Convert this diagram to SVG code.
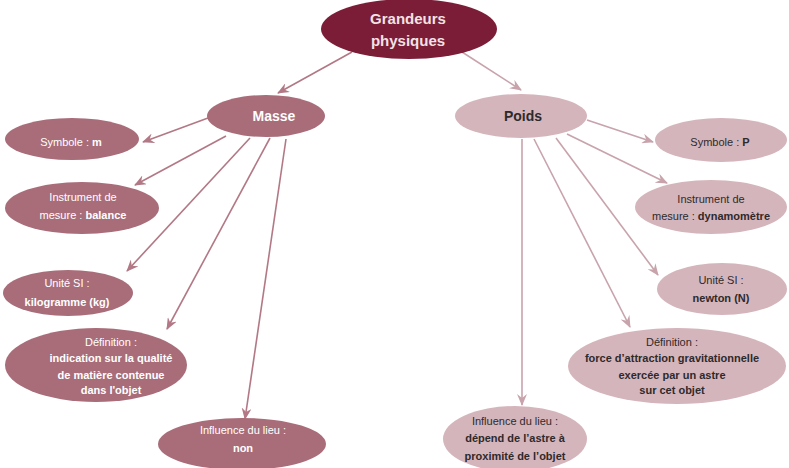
<svg xmlns="http://www.w3.org/2000/svg" width="789" height="468" viewBox="0 0 789 468">
<defs>
<marker id="aL" viewBox="0 0 12 10" markerWidth="12" markerHeight="10" refX="11" refY="5" orient="auto" markerUnits="userSpaceOnUse"><path d="M0,0 L12,5 L0,10 L4,5 z" fill="#b27885"/></marker>
<marker id="aR" viewBox="0 0 12 10" markerWidth="12" markerHeight="10" refX="11" refY="5" orient="auto" markerUnits="userSpaceOnUse"><path d="M0,0 L12,5 L0,10 L4,5 z" fill="#c8a3ac"/></marker>
</defs>
<style>
text{font-family:"Liberation Sans",Arial,sans-serif;text-anchor:middle}
.top{fill:#7b1d37}
.lf{fill:#a86d79}
.rf{fill:#d5b5bc}
.lt{fill:#ffffff;font-size:11px}
.rt{fill:#2e2a2b;font-size:11px}
.b{font-weight:bold}
.cl{stroke:#b27885;stroke-width:1.6;fill:none;marker-end:url(#aL)}
.cr{stroke:#c8a3ac;stroke-width:1.6;fill:none;marker-end:url(#aR)}
</style>
<rect width="789" height="468" fill="#ffffff"/>
<g id="connectors">
<line class="cl" x1="352" y1="52" x2="278" y2="93"/>
<line class="cr" x1="462" y1="52" x2="521" y2="90"/>
<line class="cl" x1="208" y1="118" x2="143" y2="142"/>
<line class="cl" x1="226" y1="136" x2="135" y2="185"/>
<line class="cl" x1="250" y1="138" x2="127" y2="271"/>
<line class="cl" x1="270" y1="138" x2="167" y2="329"/>
<line class="cl" x1="286" y1="139" x2="245" y2="419"/>
<line class="cr" x1="587" y1="120" x2="653" y2="142"/>
<line class="cr" x1="567" y1="134" x2="667" y2="183"/>
<line class="cr" x1="556" y1="138" x2="658" y2="275"/>
<line class="cr" x1="534" y1="139" x2="630" y2="327"/>
<line class="cr" x1="522" y1="139" x2="522" y2="405"/>
</g>
<g id="grandeurs">
<ellipse class="top" cx="409" cy="29" rx="88" ry="30"/>
<text class="b" x="408" y="24" font-size="15" fill="#f2e2e5">Grandeurs</text>
<text class="b" x="408" y="46" font-size="15" fill="#f2e2e5">physiques</text>
</g>
<g id="masse">
<ellipse class="lf" cx="266" cy="116" rx="59" ry="21"/>
<text class="b" x="274" y="121" font-size="14" fill="#ffffff">Masse</text>
</g>
<g id="poids">
<ellipse class="rf" cx="521" cy="116" rx="66" ry="22"/>
<text class="b" x="523" y="121" font-size="14" fill="#2e2a2b">Poids</text>
</g>
<g id="symbole-m">
<ellipse class="lf" cx="72" cy="139" rx="67" ry="21"/>
<text class="lt" x="71" y="146">Symbole : <tspan class="b">m</tspan></text>
</g>
<g id="instrument-balance">
<ellipse class="lf" cx="82" cy="208" rx="77" ry="26"/>
<text class="lt" x="83" y="201">Instrument de</text>
<text class="lt" x="83" y="219">mesure : <tspan class="b">balance</tspan></text>
</g>
<g id="unite-kg">
<ellipse class="lf" cx="68" cy="293" rx="65" ry="23"/>
<text class="lt" x="67" y="287">Unité SI :</text>
<text class="lt b" x="67" y="306">kilogramme (kg)</text>
</g>
<g id="definition-masse">
<ellipse class="lf" cx="96" cy="365" rx="91" ry="37"/>
<text class="lt" x="111" y="346">Définition :</text>
<text class="lt b" x="111" y="362" font-size="12">indication sur la qualité</text>
<text class="lt b" x="111" y="379" font-size="12">de matière contenue</text>
<text class="lt b" x="111" y="394" font-size="12">dans l'objet</text>
</g>
<g id="influence-masse">
<ellipse class="lf" cx="242" cy="444" rx="84" ry="26"/>
<text class="lt" x="243" y="434">Influence du lieu :</text>
<text class="lt b" x="243" y="452">non</text>
</g>
<g id="symbole-p">
<ellipse class="rf" cx="721" cy="140" rx="66" ry="22"/>
<text class="rt" x="720" y="146">Symbole : <tspan class="b">P</tspan></text>
</g>
<g id="instrument-dynamometre">
<ellipse class="rf" cx="711" cy="207" rx="76" ry="27"/>
<text class="rt" x="711" y="203">Instrument de</text>
<text class="rt" x="711" y="220">mesure : <tspan class="b">dynamomètre</tspan></text>
</g>
<g id="unite-newton">
<ellipse class="rf" cx="722" cy="289" rx="65" ry="26"/>
<text class="rt" x="721" y="284">Unité SI :</text>
<text class="rt b" x="721" y="302">newton (N)</text>
</g>
<g id="definition-poids">
<ellipse class="rf" cx="677" cy="366" rx="109" ry="38"/>
<text class="rt" x="672" y="346">Définition :</text>
<text class="rt b" x="672" y="362" font-size="11.5">force d’attraction gravitationnelle</text>
<text class="rt b" x="672" y="379" font-size="11.5">exercée par un astre</text>
<text class="rt b" x="672" y="394" font-size="11.5">sur cet objet</text>
</g>
<g id="influence-poids">
<ellipse class="rf" cx="515" cy="439" rx="72" ry="33"/>
<text class="rt" x="515" y="425">Influence du lieu :</text>
<text class="rt b" x="515" y="442" font-size="11.5">dépend de l’astre à</text>
<text class="rt b" x="515" y="460" font-size="11.5">proximité de l’objet</text>
</g>
</svg>
